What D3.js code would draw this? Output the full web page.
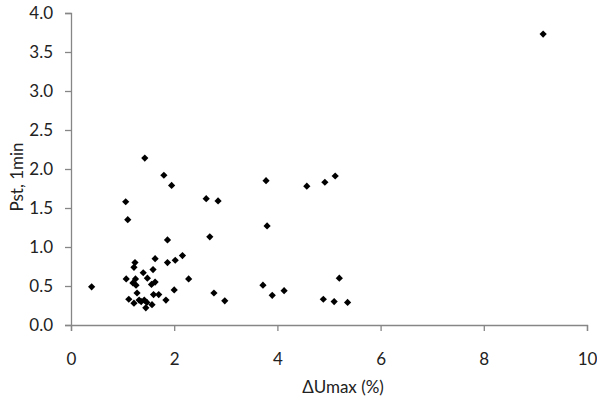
<!DOCTYPE html>
<html>
<head>
<meta charset="utf-8">
<script src="https://cdn.jsdelivr.net/npm/d3@7"></script>
<style>
  body { margin: 0; background: #fff; }
  text { font-family: Lato, "Open Sans", sans-serif; fill: #222; }
</style>
</head>
<body>
<svg id="chart" width="597" height="405"></svg>
<script>
// Voltage change ΔUmax (%) against short-term flicker Pst (1 min)
const dUmax = [0.40, 1.06, 1.10, 1.43, 1.80, 1.95, 2.62, 2.85, 2.69, 1.87,
  1.63, 2.16, 2.02, 1.87, 1.24, 1.22, 1.59, 1.40, 1.48, 1.07,
  1.25, 2.28, 1.20, 1.63, 1.56, 1.26, 2.00, 1.28, 1.60, 1.70,
  2.77, 1.12, 1.32, 1.42, 1.84, 2.98, 1.22, 1.36, 1.47, 1.57,
  1.45, 3.78, 3.80, 4.57, 4.92, 5.12, 5.20, 3.72, 3.90, 4.13,
  4.89, 5.10, 5.36, 9.15];
const pst = [0.49, 1.58, 1.35, 2.14, 1.92, 1.79, 1.62, 1.59, 1.13, 1.09,
  0.85, 0.89, 0.83, 0.80, 0.80, 0.74, 0.71, 0.67, 0.60, 0.59,
  0.59, 0.59, 0.54, 0.55, 0.52, 0.51, 0.45, 0.41, 0.39, 0.39,
  0.41, 0.33, 0.32, 0.32, 0.32, 0.31, 0.28, 0.30, 0.29, 0.26,
  0.22, 1.85, 1.27, 1.78, 1.83, 1.91, 0.60, 0.51, 0.38, 0.44,
  0.33, 0.30, 0.29, 3.73];
const xTicks = [0, 2, 4, 6, 8, 10];
const yTicks = [0, 0.5, 1.0, 1.5, 2.0, 2.5, 3.0, 3.5, 4.0];
const xTitle = "ΔUmax (%)";
const yTitle = "Pst, 1min";

const svg = d3.select("#chart");
const plot = { left: 71, right: 587, top: 13, bottom: 325 };

const x = d3.scaleLinear().domain([0, 10]).range([plot.left, plot.right]);
const y = d3.scaleLinear().domain([0, 4]).range([plot.bottom, plot.top]);

const axisColor = "#868686";
const fontSize = 17;

const xAxis = svg.append("g")
  .attr("transform", `translate(0,${plot.bottom})`)
  .call(d3.axisBottom(x).tickValues(xTicks).tickSize(6).tickPadding(22)
    .tickFormat(d3.format("d")));
const yAxis = svg.append("g")
  .attr("transform", `translate(${plot.left},0)`)
  .call(d3.axisLeft(y).tickValues(yTicks).tickSize(6).tickPadding(12)
    .tickFormat(d3.format(".1f")));

[xAxis, yAxis].forEach(g => {
  g.select(".domain").attr("stroke", axisColor).attr("stroke-width", 1.3);
  g.selectAll(".tick line").attr("stroke", axisColor).attr("stroke-width", 1.3);
  g.selectAll(".tick text").attr("font-size", fontSize).attr("fill", "#222")
    .attr("font-family", "Lato, 'Open Sans', sans-serif");
});

// Diamond markers
const diamond = d3.symbol(d3.symbolSquare, 26);
svg.append("g").selectAll("path")
  .data(dUmax.map((v, i) => [v, pst[i]]))
  .join("path")
  .attr("d", diamond)
  .attr("transform", d => `translate(${x(d[0])},${y(d[1])}) rotate(45)`)
  .attr("fill", "#000");

svg.append("text")
  .attr("x", 343)
  .attr("y", 393)
  .attr("text-anchor", "middle")
  .attr("font-size", fontSize)
  .text(xTitle);

svg.append("text")
  .attr("transform", `translate(23,177) rotate(-90)`)
  .attr("text-anchor", "middle")
  .attr("font-size", fontSize)
  .text(yTitle);
</script>
</body>
</html>
